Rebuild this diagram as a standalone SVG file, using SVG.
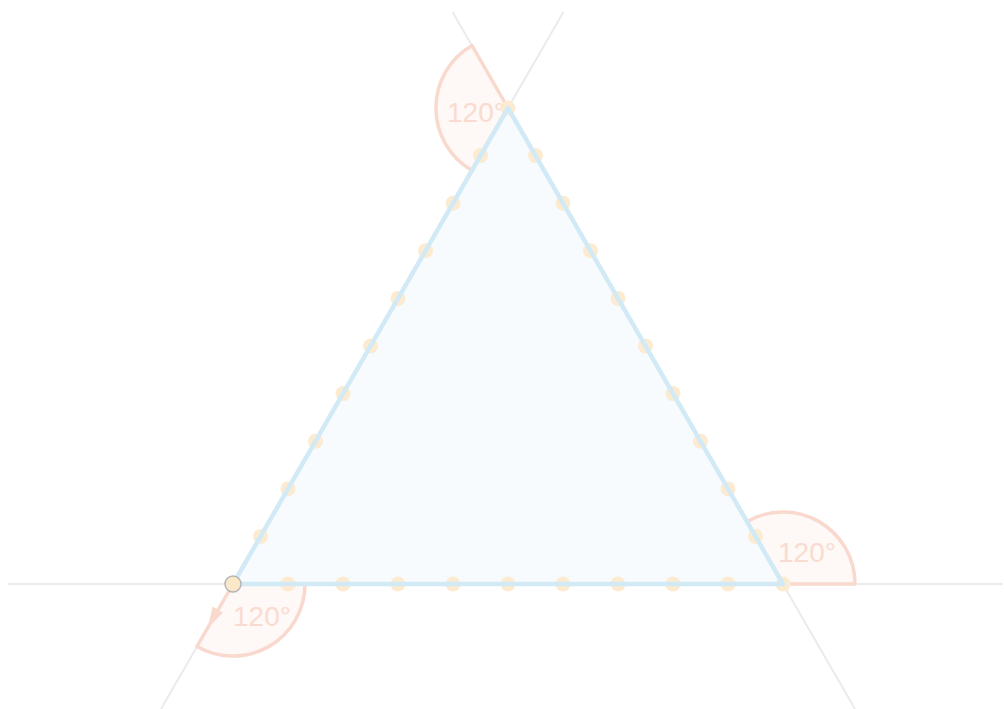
<svg xmlns="http://www.w3.org/2000/svg" width="1004" height="709" viewBox="0 0 1004 709">
<style>
.guide{stroke:#ebebeb;stroke-width:2;fill:none}
.sector{fill:#fef8f6;stroke:#f9d9ce;stroke-width:3.5;stroke-linejoin:round}
.lbl{font-family:"Liberation Sans",Arial,sans-serif;font-size:28px;fill:#fadbd0}
.dot{fill:#fcebd0}
.tri{fill:#f7fbfe;stroke:none}
.triedge{fill:none;stroke:#d2eaf5;stroke-width:4.5;stroke-linejoin:round}
</style>
<rect width="1004" height="709" fill="#ffffff"/>
<g id="connectors">
<line class="guide" x1="8" y1="584" x2="1003" y2="584"/>
<line class="guide" x1="452.5" y1="12" x2="855" y2="709"/>
<line class="guide" x1="563.5" y1="12" x2="161" y2="709"/>
</g>
<g id="triangle">
<polygon class="tri" points="233,584 508,108 783,584"/>
</g>
<g id="angle-top">
<path class="sector" d="M508,108 L472,45.6 A72,72 0 0 0 472,170.4 Z"/>
<text class="lbl" x="447" y="122">120°</text>
</g>
<g id="angle-right">
<path class="sector" d="M783,584 L855,584 A72,72 0 0 0 747,521.6 Z"/>
<text class="lbl" x="778" y="562">120°</text>
</g>
<g id="angle-left">
<path class="sector" d="M233,584 L305,584 A72,72 0 0 1 197,646.4 Z"/>
<polygon points="208,628 212.5,606.5 223,612.5" fill="#f9d9ce"/>
<text class="lbl" x="233" y="626">120°</text>
</g>
<g id="dots">
<circle class="dot" cx="288" cy="584" r="7.5"/>
<circle class="dot" cx="343" cy="584" r="7.5"/>
<circle class="dot" cx="398" cy="584" r="7.5"/>
<circle class="dot" cx="453" cy="584" r="7.5"/>
<circle class="dot" cx="508" cy="584" r="7.5"/>
<circle class="dot" cx="563" cy="584" r="7.5"/>
<circle class="dot" cx="618" cy="584" r="7.5"/>
<circle class="dot" cx="673" cy="584" r="7.5"/>
<circle class="dot" cx="728" cy="584" r="7.5"/>
<circle class="dot" cx="783" cy="584" r="7.5"/>
<circle class="dot" cx="260.5" cy="536.4" r="7.5"/>
<circle class="dot" cx="288" cy="488.8" r="7.5"/>
<circle class="dot" cx="315.5" cy="441.2" r="7.5"/>
<circle class="dot" cx="343" cy="393.6" r="7.5"/>
<circle class="dot" cx="370.5" cy="346" r="7.5"/>
<circle class="dot" cx="398" cy="298.4" r="7.5"/>
<circle class="dot" cx="425.5" cy="250.8" r="7.5"/>
<circle class="dot" cx="453" cy="203.2" r="7.5"/>
<circle class="dot" cx="480.5" cy="155.6" r="7.5"/>
<circle class="dot" cx="508" cy="108" r="7.5"/>
<circle class="dot" cx="535.5" cy="155.6" r="7.5"/>
<circle class="dot" cx="563" cy="203.2" r="7.5"/>
<circle class="dot" cx="590.5" cy="250.8" r="7.5"/>
<circle class="dot" cx="618" cy="298.4" r="7.5"/>
<circle class="dot" cx="645.5" cy="346" r="7.5"/>
<circle class="dot" cx="673" cy="393.6" r="7.5"/>
<circle class="dot" cx="700.5" cy="441.2" r="7.5"/>
<circle class="dot" cx="728" cy="488.8" r="7.5"/>
<circle class="dot" cx="755.5" cy="536.4" r="7.5"/>
</g>
<g id="triangle-edges">
<polygon class="triedge" points="233,584 508,108 783,584"/>
</g>
<g id="vertex">
<circle cx="233" cy="584" r="8" fill="#fbe8c8" stroke="#b5b5b5" stroke-width="1.5"/>
</g>
</svg>
